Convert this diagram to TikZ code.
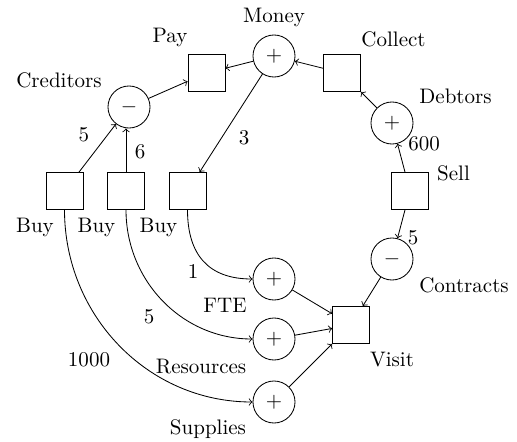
\documentclass[tikz,border=0pt]{standalone}
\usetikzlibrary{arrows}
\begin{document}
\begin{tikzpicture}[x=0.476pt,y=-0.476pt,
  flow/.style={draw,rectangle,minimum size=17.6pt,inner sep=0pt},
  stock/.style={draw,circle,minimum size=20pt,inner sep=0pt},
  lbl/.style={anchor=base,inner sep=0pt},
  qty/.style={anchor=center,inner sep=0pt},
  link/.style={->}]
\useasboundingbox (0,0) rectangle (517,441);

% flows (squares) and stocks (circles)
\node[flow]  (pay)       at (206.5,73)  {};
\node[stock] (money)     at (274,56)    {$+$};
\node[flow]  (collect)   at (342,73)    {};
\node[stock] (creditors) at (129,107)   {$-$};
\node[stock] (debtors)   at (392,123)   {$+$};
\node[flow]  (sell)      at (410,191)   {};
\node[stock] (contracts) at (392,259)   {$-$};
\node[flow]  (visit)     at (351,325)   {};
\node[stock] (fte)       at (274,279)   {$+$};
\node[stock] (res)       at (274,339)   {$+$};
\node[stock] (sup)       at (274,402)   {$+$};
\node[flow]  (buyA)      at (64.5,191)  {};
\node[flow]  (buyB)      at (126,191)   {};
\node[flow]  (buyC)      at (187.5,191) {};

% names
\node[lbl] (payT)       at (170,43)   {Pay};
\node[lbl] (moneyT)     at (274,23)   {Money};
\node[lbl] (collectT)   at (393.5,47) {Collect};
\node[lbl] (creditorsT) at (59,88)    {Creditors};
\node[lbl] (debtorsT)   at (455.5,104){Debtors};
\node[lbl] (sellT)      at (453.5,180){Sell};
\node[lbl] (contractsT) at (464,292)  {Contracts};
\node[lbl] (visitT)     at (392,366)  {Visit};
\node[lbl] (fteT)       at (225,312)  {FTE};
\node[lbl] (resT)       at (201,373)  {Resources};
\node[lbl] (supT)       at (208,434)  {Supplies};
\node[lbl] (buyAT)      at (35,232)   {Buy};
\node[lbl] (buyBT)      at (96.5,232) {Buy};
\node[lbl] (buyCT)      at (158.5,232){Buy};

% connectors
\draw[link] (money) -- (pay);
\draw[link] (collect) -- (money);
\draw[link] (debtors) -- (collect);
\draw[link] (sell) -- (debtors);
\draw[link] (sell) -- (contracts);
\draw[link] (contracts) -- (visit);
\draw[link] (fte) -- (visit);
\draw[link] (res) -- (visit);
\draw[link] (sup) -- (visit);
\draw[link] (creditors) -- (pay);
\draw[link] (buyA) -- (creditors);
\draw[link] (buyB.north) -- (buyB.north |- creditors.south);
\draw[link] (money) -- (buyC);
\draw[link] (buyC.south) to[out=-90,in=180,looseness=1.2] (fte.west);
\draw[link] (buyB.south) to[out=-90,in=180] (res.west);
\draw[link] (buyA.south) to[out=-90,in=180] (sup.west);

% quantities
\node[qty] (qA)   at (84,135)  {5};
\node[qty] (qB)   at (140,152) {6};
\node[qty] (qC)   at (244,138) {3};
\node[qty] (qD)   at (424,144) {600};
\node[qty] (qE)   at (413,238) {5};
\node[qty] (qF)   at (193,272) {1};
\node[qty] (qG)   at (149,317) {5};
\node[qty] (qH)   at (89,360)  {1000};
\end{tikzpicture}
\end{document}
